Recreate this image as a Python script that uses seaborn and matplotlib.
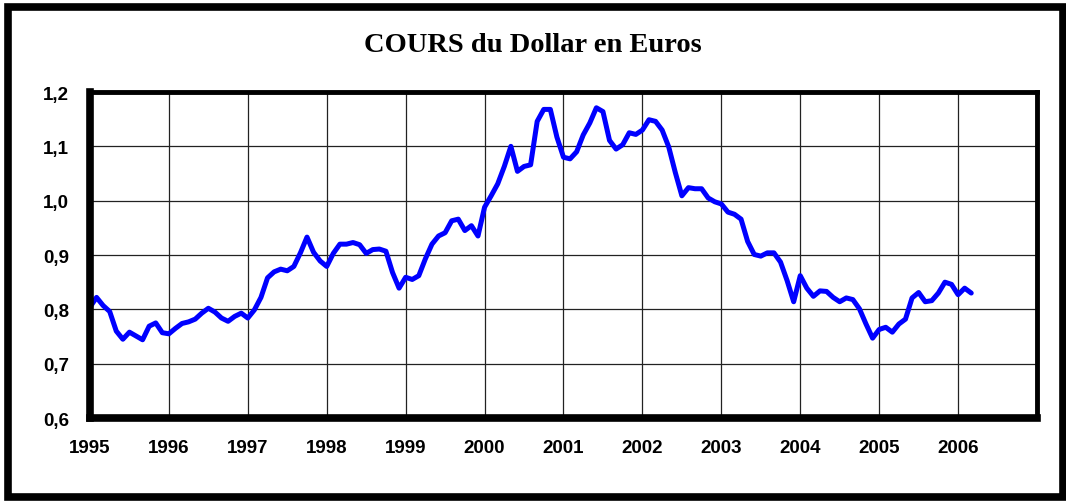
import numpy as np
import pandas as pd
import matplotlib.pyplot as plt
import seaborn as sns
from matplotlib.patches import Rectangle
from matplotlib.ticker import FuncFormatter

# monthly values, January 1995 to March 2006
start_year = 1995
usd_eur = [
    0.804, 0.822, 0.807, 0.796, 0.760, 0.745, 0.758, 0.751, 0.744, 0.769, 0.775, 0.757,
    0.755, 0.765, 0.774, 0.777, 0.782, 0.793, 0.802, 0.795, 0.784, 0.778, 0.787, 0.793,
    0.784, 0.799, 0.822, 0.858, 0.869, 0.874, 0.871, 0.879, 0.904, 0.933, 0.905, 0.889,
    0.879, 0.903, 0.920, 0.920, 0.923, 0.919, 0.903, 0.910, 0.911, 0.907, 0.868, 0.839,
    0.859, 0.855, 0.862, 0.893, 0.920, 0.935, 0.941, 0.963, 0.966, 0.945, 0.954, 0.935,
    0.988, 1.009, 1.031, 1.063, 1.100, 1.054, 1.063, 1.066, 1.146, 1.168, 1.168, 1.117,
    1.080, 1.077, 1.090, 1.121, 1.143, 1.171, 1.164, 1.111, 1.095, 1.103, 1.125, 1.122,
    1.130, 1.149, 1.146, 1.130, 1.099, 1.052, 1.009, 1.024, 1.022, 1.022, 1.005, 0.998,
    0.994, 0.979, 0.975, 0.966, 0.925, 0.901, 0.898, 0.904, 0.904, 0.887, 0.853, 0.814,
    0.862, 0.839, 0.824, 0.834, 0.833, 0.822, 0.814, 0.821, 0.818, 0.801, 0.773, 0.747,
    0.763, 0.767, 0.758, 0.773, 0.782, 0.821, 0.831, 0.814, 0.816, 0.830, 0.850, 0.846,
    0.827, 0.839, 0.830,
]
years = list(range(1995, 2008))
year_labels = [str(y) for y in years[:-1]] + [""]
y_ticks = [0.6, 0.7, 0.8, 0.9, 1.0, 1.1, 1.2]

df = pd.DataFrame({"t": start_year + np.arange(len(usd_eur)) / 12, "cours": usd_eur})

sns.set_style("white")
plt.rcParams["font.family"] = ["Liberation Sans", "DejaVu Sans"]

fig = plt.figure(figsize=(10.66, 5.02), dpi=100)
ax = fig.add_axes([0.0844, 0.1653, 0.8884, 0.6494])

sns.lineplot(data=df, x="t", y="cours", ax=ax, color="#0000ff", linewidth=3.6)

ax.set_xlim(1995, 2007)
ax.set_ylim(0.6, 1.2)
ax.set_xticks(years)
ax.set_xticklabels(year_labels)
ax.set_yticks(y_ticks)
ax.yaxis.set_major_formatter(FuncFormatter(lambda v, p: f"{v:.1f}".replace(".", ",")))
ax.grid(True, color="#222222", linewidth=0.9)
ax.set_xlabel("")
ax.set_ylabel("")

for side, lw in [("left", 5.5), ("bottom", 5.5), ("top", 3.5), ("right", 3.5)]:
    ax.spines[side].set_visible(True)
    ax.spines[side].set_color("black")
    ax.spines[side].set_linewidth(lw)

ax.tick_params(axis="both", direction="in", length=4, width=4, color="black",
               labelsize=13.5, labelcolor="black")
ax.tick_params(axis="y", pad=15)
ax.tick_params(axis="x", pad=15)
for lab in ax.get_xticklabels() + ax.get_yticklabels():
    lab.set_fontweight("bold")

# title and outer frame
fig.text(0.5, 1 - 45 / 502, "COURS du Dollar en Euros", ha="center", va="center",
         fontsize=20.5, fontweight="bold", color="black",
         family=["Liberation Serif", "DejaVu Serif"])
fig.patches.append(Rectangle((8 / 1066, 4 / 502), 1055 / 1066, 490 / 502,
                             transform=fig.transFigure, fill=False,
                             edgecolor="black", linewidth=5.5))

plt.savefig("out.png", dpi=100)
